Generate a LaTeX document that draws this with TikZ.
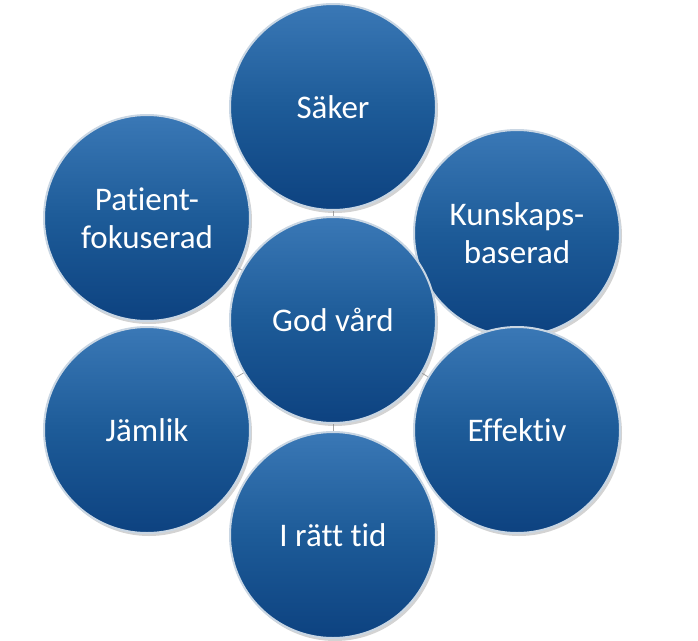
\documentclass[tikz,border=0pt]{standalone}
\usepackage{fontspec}
\setmainfont[Ligatures=NoCommon]{Carlito}
\usetikzlibrary{shadows}
\definecolor{bluetop}{HTML}{3A78B6}
\definecolor{bluemid}{HTML}{1D5B98}
\definecolor{bluebot}{HTML}{0D4280}
\definecolor{rim}{HTML}{C9D6E3}
\tikzset{
  bubble/.style={circle, minimum size=206pt, inner sep=0pt, draw=rim, line width=2pt,
    top color=bluetop, bottom color=bluebot, middle color=bluemid,
    text=white, align=center, font=\fontsize{33pt}{38pt}\selectfont,
    drop shadow={shadow xshift=2pt, shadow yshift=-3pt, opacity=0.35}},
  link/.style={draw=gray!70, line width=0.8pt}
}
\begin{document}
\begin{tikzpicture}[x=1pt,y=-1pt]
\useasboundingbox (0,0) rectangle (698,640);
\coordinate (cc) at (333,320);
\coordinate (c1) at (333,107);
\coordinate (c2) at (517,233);
\coordinate (c3) at (517,430);
\coordinate (c4) at (333,535);
\coordinate (c5) at (147,430);
\coordinate (c6) at (147,218);
\foreach \c in {c1,c2,c3,c4,c5,c6} \draw[link] (cc) -- (\c);
\node[bubble] (s) at (c1) {Säker};
\node[bubble] (k) at (c2) {Kunskaps-\\baserad};
\node[bubble] (e) at (c3) {Effektiv};
\node[bubble] (r) at (c4) {I rätt tid};
\node[bubble] (j) at (c5) {Jämlik};
\node[bubble] (p) at (c6) {Patient-\\fokuserad};
\node[bubble] (g) at (cc) {God vård};
\end{tikzpicture}
\end{document}
